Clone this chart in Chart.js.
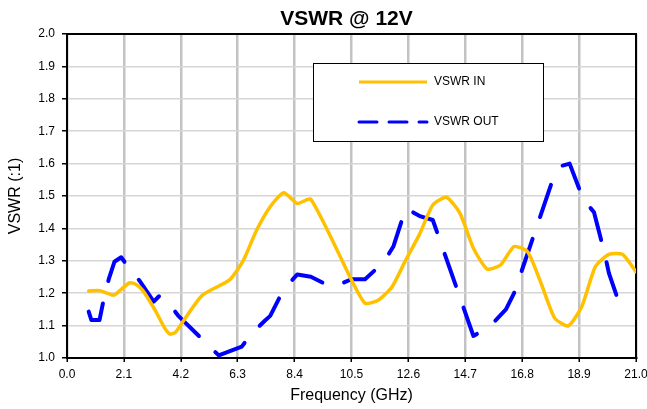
<!DOCTYPE html>
<html>
<head>
<meta charset="utf-8">
<title>VSWR @ 12V</title>
<script src="https://cdn.jsdelivr.net/npm/chart.js@4.4.1/dist/chart.umd.min.js"></script>
<style>
    body { margin: 0; background: #ffffff; }
    canvas { display: block; }
</style>
</head>
<body>
<canvas id="vswrChart" width="647" height="409"></canvas>
<script>
// ===================================
// DATA
// ===================================

// Tick labels
const X_TICKS = [0.0, 2.1, 4.2, 6.3, 8.4, 10.5, 12.6, 14.7, 16.8, 18.9, 21.0];
const Y_TICKS = [1.0, 1.1, 1.2, 1.3, 1.4, 1.5, 1.6, 1.7, 1.8, 1.9, 2.0];

// VSWR IN (frequency in GHz, ratio)
const IN_FREQ = [0.8, 1.2, 1.7, 1.8, 2.3, 2.55, 2.8, 3.25, 3.6, 3.8, 4.0, 4.3, 5.0, 6.0, 6.5, 7.0, 7.5, 8.0, 8.5, 9.0,
                 10.5, 11.0, 11.5, 12.0, 12.5, 13.0, 13.5, 14.0, 14.5, 15.0, 15.5, 16.0, 16.5, 17.0, 17.5, 18.0,
                 18.5, 19.0, 19.5, 20.0, 20.5, 21.0];
const IN_VSWR = [1.207, 1.208, 1.194, 1.197, 1.232, 1.227, 1.208, 1.148, 1.093, 1.074, 1.079, 1.115, 1.194, 1.241, 1.300,
                 1.395, 1.467, 1.510, 1.477, 1.490, 1.241, 1.169, 1.179, 1.220, 1.302, 1.380, 1.472, 1.496, 1.447,
                 1.339, 1.275, 1.287, 1.344, 1.328, 1.230, 1.123, 1.099, 1.159, 1.282, 1.320, 1.320, 1.266];

// VSWR OUT (frequency in GHz, ratio)
const OUT_FREQ = [0.8, 0.9, 1.2, 1.35, 1.55, 1.75, 2.0, 2.25, 2.7, 3.2, 3.4, 3.7, 4.1, 5.6, 6.45, 6.8, 7.3, 7.5, 8.0,
                  8.5, 9.0, 9.45, 9.9, 10.5, 11.0, 11.7, 12.05, 12.5, 13.05, 13.5, 15.0, 15.6, 16.2, 16.5, 17.95,
                  18.25, 18.55, 19.05, 19.45, 19.85, 20.0, 20.45];
const OUT_VSWR = [1.143, 1.117, 1.117, 1.179, 1.246, 1.297, 1.311, 1.282, 1.236, 1.174, 1.191, 1.176, 1.131, 1.008,
                  1.035, 1.074, 1.115, 1.130, 1.212, 1.258, 1.251, 1.232, 1.222, 1.243, 1.243, 1.297, 1.345, 1.462,
                  1.437, 1.426, 1.068, 1.097, 1.150, 1.200, 1.556, 1.593, 1.600, 1.490, 1.450, 1.320, 1.262, 1.152];

const IN_COLOR = '#ffc000';
const OUT_COLOR = '#0000ff';
const CHART_TITLE = 'VSWR @ 12V';

Chart.defaults.font.family = "'Liberation Sans', Arial, sans-serif";
Chart.defaults.color = '#000000';

function toPoints(xs, ys) {
    return xs.map((x, i) => ({ x: x, y: ys[i] }));
}

// ===================================
// Plugin: black frame round the plot area + chart title
// ===================================
const framePlugin = {
    id: 'frame',
    beforeDatasetsDraw(chart) {
        const { ctx, chartArea: a } = chart;
        ctx.save();
        ctx.strokeStyle = '#000000';
        ctx.lineWidth = 2;
        ctx.strokeRect(a.left, a.top, a.right - a.left, a.bottom - a.top);

        // title, centred a bit left of the plot centre like the original
        ctx.fillStyle = '#000000';
        ctx.font = "bold 21px 'Liberation Sans', Arial, sans-serif";
        ctx.textAlign = 'center';
        ctx.textBaseline = 'middle';
        ctx.fillText(CHART_TITLE, (a.left + a.right) / 2 - 5, 19);
        ctx.restore();
    }
};

// ===================================
// Plugin: boxed legend inside the plot
// ===================================
const boxLegendPlugin = {
    id: 'boxLegend',
    afterDatasetsDraw(chart) {
        const ctx = chart.ctx;
        const box = { x: 313, y: 63, w: 230, h: 78 };
        ctx.save();
        ctx.fillStyle = '#ffffff';
        ctx.fillRect(box.x, box.y, box.w, box.h);
        ctx.strokeStyle = '#000000';
        ctx.lineWidth = 1;
        ctx.strokeRect(box.x + 0.5, box.y + 0.5, box.w, box.h);

        const rows = [
            { y: 82, ds: chart.data.datasets[0], dash: [] },
            { y: 122, ds: chart.data.datasets[1], dash: [18, 12] }
        ];
        rows.forEach(r => {
            ctx.beginPath();
            ctx.strokeStyle = r.ds.borderColor;
            ctx.lineWidth = 3;
            ctx.lineCap = r.dash.length ? 'round' : 'butt';
            ctx.setLineDash(r.dash);
            ctx.moveTo(359, r.y);
            ctx.lineTo(427, r.y);
            ctx.stroke();
            ctx.setLineDash([]);
            ctx.fillStyle = '#000000';
            ctx.font = "12px 'Liberation Sans', Arial, sans-serif";
            ctx.textBaseline = 'middle';
            ctx.fillText(r.ds.label, 434, r.y);
        });
        ctx.restore();
    }
};

// ===================================
// Chart
// ===================================
const ctx = document.getElementById('vswrChart').getContext('2d');

new Chart(ctx, {
    type: 'line',
    data: {
        datasets: [
            {
                label: 'VSWR IN',
                data: toPoints(IN_FREQ, IN_VSWR),
                borderColor: IN_COLOR,
                borderWidth: 3.5,
                borderJoinStyle: 'round',
                borderCapStyle: 'round',
                pointRadius: 0,
                tension: 0.2,
                fill: false
            },
            {
                label: 'VSWR OUT',
                data: toPoints(OUT_FREQ, OUT_VSWR),
                borderColor: OUT_COLOR,
                borderWidth: 4,
                borderDash: [34, 23],
                borderJoinStyle: 'round',
                borderCapStyle: 'round',
                pointRadius: 0,
                tension: 0,
                fill: false
            }
        ]
    },
    options: {
        responsive: false,
        animation: false,
        layout: {
            padding: { left: 0, right: 11, top: 34, bottom: 0 }
        },
        plugins: {
            legend: { display: false },
            tooltip: { enabled: false },
            title: { display: false }
        },
        scales: {
            x: {
                type: 'linear',
                min: 0,
                max: 21,
                afterBuildTicks: scale => { scale.ticks = X_TICKS.map(v => ({ value: v })); },
                afterFit: scale => {
                    scale.height = 51;
                    scale.paddingLeft = 0;
                    scale.paddingRight = 0;
                },
                ticks: {
                    font: { size: 12 },
                    padding: 5,
                    maxRotation: 0,
                    callback: v => Number(v).toFixed(1)
                },
                grid: {
                    color: '#c3c3c3',
                    lineWidth: 2.5,
                    tickColor: '#000000',
                    tickLength: 4,
                    tickWidth: 1.5
                },
                border: { display: true, color: '#000000', width: 2 },
                title: {
                    display: true,
                    text: 'Frequency (GHz)',
                    font: { size: 16 },
                    padding: { top: 0, bottom: 4 }
                }
            },
            y: {
                min: 1.0,
                max: 2.0,
                afterBuildTicks: scale => { scale.ticks = Y_TICKS.map(v => ({ value: v })); },
                afterFit: scale => {
                    scale.width = 67;
                    scale.paddingTop = 0;
                    scale.paddingBottom = 0;
                },
                ticks: {
                    font: { size: 12 },
                    padding: 7,
                    callback: v => Number(v).toFixed(1)
                },
                grid: {
                    color: '#d6d6d6',
                    lineWidth: 1.5,
                    tickColor: '#000000',
                    tickLength: 5,
                    tickWidth: 1.5
                },
                border: { display: true, color: '#000000', width: 2 },
                title: {
                    display: true,
                    text: 'VSWR (:1)',
                    font: { size: 16 },
                    padding: { top: 6, bottom: 0 }
                }
            }
        }
    },
    plugins: [framePlugin, boxLegendPlugin]
});
</script>
</body>
</html>
